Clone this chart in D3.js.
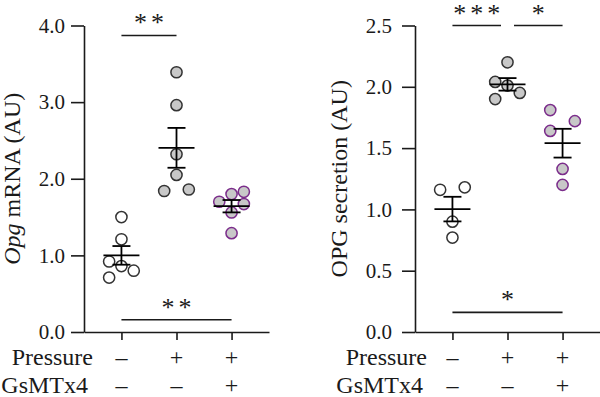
<!DOCTYPE html>
<html>
<head>
<meta charset="utf-8">
<script src="https://cdn.jsdelivr.net/npm/d3@7"></script>
<style>
  html, body { margin: 0; padding: 0; background: #fff; }
  svg { display: block; }
  svg text { font-family: 'Liberation Serif', serif; }
</style>
</head>
<body>
<div id="chart"></div>
<script>
// groups: control, pressure, pressure + GsMTx4
const groups = [0, 1, 2];
const pressureSigns = ["\u2013", "+", "+"];
const gsmtx4Signs = ["\u2013", "\u2013", "+"];

// Opg mRNA (AU)
const opgMrnaValues = [
  [1.50, 1.21, 0.92, 0.86, 0.80, 0.71],
  [3.39, 2.96, 2.32, 2.05, 1.84, 1.86],
  [1.80, 1.83, 1.70, 1.67, 1.56, 1.29]
];
// dot column per point (-1 left, 0 centre, 1 right), as in the scatter
const opgMrnaSlots = [
  [0, 0, -1, 0, 1, -1],
  [0, 0, 0, 0, -1, 1],
  [0, 1, -1, 1, 0, 0]
];
const opgMrnaTicks = [0, 1, 2, 3, 4];
const opgMrnaSig = [
  { from: 0, to: 1, y: 3.87, label: "**" },
  { from: 0, to: 2, y: 0.16, label: "**" }
];

// OPG secretion (AU)
const opgSecretionValues = [
  [1.16, 1.18, 0.90, 0.77],
  [2.20, 2.04, 2.01, 1.90, 1.95],
  [1.81, 1.72, 1.64, 1.33, 1.20]
];
const opgSecretionSlots = [
  [-1, 1, 0, 0],
  [0, -1, 0, -1, 1],
  [-1, 1, -1, 0, 0]
];
const opgSecretionTicks = [0, 0.5, 1.0, 1.5, 2.0, 2.5];
const opgSecretionSig = [
  { from: 0, to: 1, y: 2.5, label: "***" },
  { from: 1, to: 2, y: 2.5, label: "*" },
  { from: 0, to: 2, y: 0.16, label: "*" }
];

const width = 600, height = 397;
const plotTop = 25.5, plotBottom = 332;
const fills = ["#ffffff", "#c8c8c8", "#c8c8c8"];
const strokes = ["#333333", "#333333", "#7b2d8b"];
const ink = "#1a1a1a";

const svg = d3.select('#chart').append('svg')
  .attr('width', width)
  .attr('height', height);

function drawPanel(p) {
  const g = svg.append('g');

  const y = d3.scaleLinear().domain([0, p.ticks[p.ticks.length - 1]]).range([plotBottom, plotTop]);
  const x = d3.scalePoint().domain(groups).range([p.x0, p.x1]).padding(0.68);

  // y axis
  const yAxis = g.append('g')
    .attr('transform', 'translate(' + p.x0 + ',0)')
    .call(d3.axisLeft(y).tickValues(p.ticks).tickFormat(d3.format('.1f'))
      .tickSize(13).tickSizeOuter(0).tickPadding(p.tickPad));
  // x axis
  const xAxis = g.append('g')
    .attr('transform', 'translate(0,' + plotBottom + ')')
    .call(d3.axisBottom(x).tickFormat('').tickSize(8).tickSizeOuter(0));

  [yAxis, xAxis].forEach(function(a) {
    a.attr('font-family', null).attr('font-size', null);
    a.selectAll('path, line').attr('stroke', ink).attr('stroke-width', 1.6);
    a.selectAll('text').style('font-size', '21px').attr('fill', ink);
  });

  // axis title
  const title = g.append('text')
    .attr('transform', 'translate(' + p.titleX + ',' + ((plotTop + plotBottom) / 2) + ') rotate(-90)')
    .attr('text-anchor', 'middle')
    .style('font-size', '24px')
    .attr('fill', ink);
  p.title.forEach(function(part) {
    title.append('tspan').style('font-style', part.italic ? 'italic' : 'normal').text(part.text);
  });

  // dots
  const slotW = 12.3;
  groups.forEach(function(gi) {
    g.append('g').selectAll('circle')
      .data(p.values[gi])
      .enter().append('circle')
      .attr('cx', function(d, i) { return x(gi) + p.slots[gi][i] * slotW; })
      .attr('cy', function(d) { return y(d); })
      .attr('r', 5.6)
      .attr('fill', fills[gi])
      .attr('stroke', strokes[gi])
      .attr('stroke-width', 1.5);
  });

  // mean +/- SEM
  groups.forEach(function(gi) {
    const vals = p.values[gi];
    const m = d3.mean(vals);
    const sem = d3.deviation(vals) / Math.sqrt(vals.length);
    const cx = x(gi);
    const e = g.append('g').attr('stroke', '#000').attr('stroke-width', 1.8);
    e.append('line').attr('x1', cx - 18).attr('x2', cx + 18).attr('y1', y(m)).attr('y2', y(m));
    e.append('line').attr('x1', cx).attr('x2', cx).attr('y1', y(m + sem)).attr('y2', y(m - sem));
    e.append('line').attr('x1', cx - 9).attr('x2', cx + 9).attr('y1', y(m + sem)).attr('y2', y(m + sem));
    e.append('line').attr('x1', cx - 9).attr('x2', cx + 9).attr('y1', y(m - sem)).attr('y2', y(m - sem));
  });

  // significance bars
  p.sig.forEach(function(s) {
    // bars meeting at the same group on the same row leave a small gap
    let xa = x(s.from), xb = x(s.to);
    p.sig.forEach(function(o) {
      if (o === s || o.y !== s.y) return;
      if (o.from === s.to) xb -= 6.5;
      if (o.to === s.from) xa += 6.5;
    });
    g.append('line')
      .attr('x1', xa).attr('x2', xb)
      .attr('y1', y(s.y)).attr('y2', y(s.y))
      .attr('stroke', ink).attr('stroke-width', 1.6);
    g.append('text')
      .attr('x', (xa + xb) / 2 + 2)
      .attr('y', y(s.y) - 4)
      .attr('text-anchor', 'middle')
      .style('font-size', '26px')
      .style('letter-spacing', '4px')
      .attr('fill', ink)
      .text(s.label);
  });

  // treatment rows
  const rows = [
    { name: 'Pressure', signs: pressureSigns, base: 365, right: p.pressureRight },
    { name: 'GsMTx4', signs: gsmtx4Signs, base: 393, right: p.gsRight }
  ];
  rows.forEach(function(r) {
    g.append('text')
      .attr('x', r.right).attr('y', r.base)
      .attr('text-anchor', 'end')
      .style('font-size', '24px')
      .attr('fill', ink)
      .text(r.name);
    g.append('g').selectAll('text')
      .data(r.signs)
      .enter().append('text')
      .attr('x', function(d, i) { return x(groups[i]); })
      .attr('y', r.base)
      .attr('text-anchor', 'middle')
      .style('font-size', '24px')
      .attr('fill', ink)
      .text(function(d) { return d; });
  });
}

drawPanel({
  x0: 84, x1: 269, tickPad: 6, titleX: 19.5,
  title: [{ text: 'Opg', italic: true }, { text: ' mRNA (AU)' }],
  values: opgMrnaValues, slots: opgMrnaSlots, ticks: opgMrnaTicks, sig: opgMrnaSig,
  pressureRight: 93, gsRight: 88
});

drawPanel({
  x0: 415, x1: 600, tickPad: 10, titleX: 346.5,
  title: [{ text: 'OPG secretion (AU)' }],
  values: opgSecretionValues, slots: opgSecretionSlots, ticks: opgSecretionTicks, sig: opgSecretionSig,
  pressureRight: 427, gsRight: 423
});
</script>
</body>
</html>
